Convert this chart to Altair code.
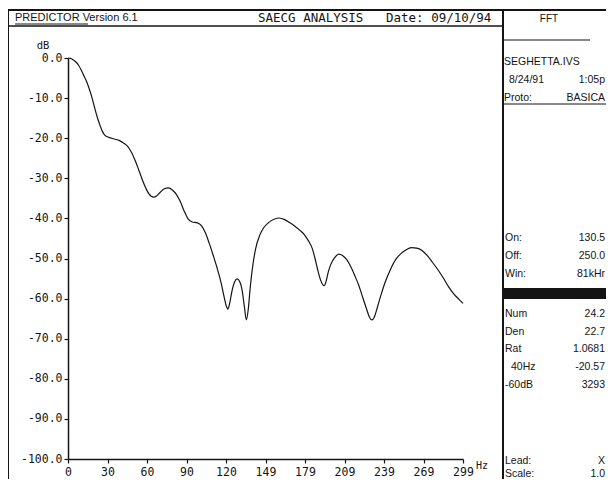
import altair as alt
import pandas as pd

# ---------------- data ----------------
freq_hz = [0, 2, 4, 6, 8, 10, 12, 14, 16, 18, 20, 22, 24, 26, 28, 31, 35, 39, 42, 45,
           48, 51, 54, 57, 60, 63, 65, 67, 70, 73, 76, 79, 82, 85, 88, 91, 94, 98, 101, 104,
           107, 110, 113, 116, 118, 120, 121, 122.5, 124, 126, 128, 130, 132, 133.5, 135,
           136.5, 138, 140, 142, 145, 148, 152, 156, 160, 164, 168, 172, 176, 179, 182,
           185, 187, 189, 191, 193, 194, 195.5, 197, 199, 202, 205, 208, 211, 214, 217,
           220, 223, 226, 228, 230, 232, 234, 237, 240, 244, 248, 252, 256, 260, 264,
           268, 272, 276, 280, 284, 288, 292, 296, 299]
level_db = [0.0, -0.1, -0.5, -1.0, -1.8, -3.0, -4.4, -5.8, -7.6, -9.7, -12.2, -14.6, -16.6,
            -18.3, -19.3, -19.8, -20.2, -20.6, -21.2, -22.0, -23.5, -25.7, -28.3, -31.0,
            -33.2, -34.5, -34.7, -34.4, -33.4, -32.6, -32.4, -32.9, -34.0, -35.8, -38.2,
            -40.2, -40.9, -41.1, -41.8, -43.6, -46.3, -49.3, -52.5, -56.2, -59.3, -62.0,
            -62.6, -61.0, -58.3, -55.9, -55.1, -55.8, -58.3, -62.0, -65.3, -62.5, -57.0,
            -51.5, -47.6, -44.3, -42.4, -41.0, -40.2, -39.9, -40.3, -41.1, -42.0, -43.1,
            -44.1, -45.6, -47.6, -50.0, -52.8, -55.2, -56.6, -56.8, -55.5, -53.4, -51.4,
            -49.7, -48.9, -49.3, -50.3, -52.0, -54.2, -56.6, -59.6, -62.6, -64.5, -65.3,
            -64.5, -62.4, -59.0, -56.0, -52.8, -50.3, -48.8, -47.8, -47.3, -47.4, -48.0,
            -49.3, -51.0, -52.8, -54.8, -57.0, -58.8, -60.2, -61.2]

y_tick_values = [0, -10, -20, -30, -40, -50, -60, -70, -80, -90, -100]
x_tick_values = [0, 29.9, 59.8, 89.7, 119.6, 149.5, 179.4, 209.3, 239.2, 269.1, 299]
x_tick_labels = ["0", "30", "60", "90", "120", "149", "179", "209", "239", "269", "299"]

header_program = "PREDICTOR Version 6.1"
header_analysis = "SAECG ANALYSIS"
header_date = "Date: 09/10/94"
panel_title = "FFT"
file_name = "SEGHETTA.IVS"
rec_date = "8/24/91"
rec_time = "1:05p"
proto_label = "Proto:"
proto_value = "BASICA"
win_labels = ["On:", "Off:", "Win:"]
win_values = ["130.5", "250.0", "81kHr"]
res_labels = ["Num", "Den", "Rat", "40Hz", "-60dB"]
res_values = ["24.2", "22.7", "1.0681", "-20.57", "3293"]
lead_labels = ["Lead:", "Scale:"]
lead_values = ["X", "1.0"]
y_unit = "dB"
x_unit = "Hz"

# ---------------- layout (page pixels) ----------------
INK = "#141414"
MONO = "DejaVu Sans Mono"
SANS = "Liberation Sans"
PX0, PY0 = 68, 58          # plot origin on page
W, H = 395, 401            # plot area
TOTAL_W, TOTAL_H = 598, 471  # whole chart, fits inside the 8px page margins
RIGHT = 605                # right edge for right-aligned panel values

one = pd.DataFrame({"k": [0]})


def px(X):
    return X - PX0


def py(Y):
    return Y - PY0


def txt(s, X, Y, align="left", size=10, font=SANS, weight="normal"):
    return alt.Chart(one).mark_text(
        text=s, align=align, baseline="middle", fontSize=size, font=font,
        fontWeight=weight, color=INK
    ).encode(x=alt.value(px(X)), y=alt.value(py(Y)))


def hline(X1, X2, Y, w=1.5):
    return alt.Chart(one).mark_rule(color=INK, strokeWidth=w).encode(
        x=alt.value(px(X1)), x2=alt.value(px(X2)), y=alt.value(py(Y)))


def vline(X, Y1, Y2, w=1.5):
    return alt.Chart(one).mark_rule(color=INK, strokeWidth=w).encode(
        x=alt.value(px(X)), y=alt.value(py(Y1)), y2=alt.value(py(Y2)))


curve_df = pd.DataFrame({"hz": freq_hz, "db": level_db})

label_js = "[" + ",".join("'%s'" % s for s in x_tick_labels) + "]"

curve = alt.Chart(curve_df).mark_line(
    color=INK, strokeWidth=1.2, interpolate="monotone"
).encode(
    x=alt.X("hz:Q",
            scale=alt.Scale(domain=[0, 299], nice=False, zero=False),
            axis=alt.Axis(values=x_tick_values, title=None, grid=False,
                          labelExpr=label_js + "[round(datum.value / 29.9)]",
                          domainColor=INK, domainWidth=1.5, tickColor=INK,
                          tickWidth=1.2, tickSize=4, labelFont=MONO,
                          labelFontSize=11.5, labelColor=INK, labelPadding=3,
                          labelFlush=False, labelOverlap=False)),
    y=alt.Y("db:Q",
            scale=alt.Scale(domain=[-100, 0], nice=False, zero=False),
            axis=alt.Axis(values=y_tick_values, title=None, grid=False,
                          labelExpr="(datum.value < 0 ? '-' : '') + format(abs(datum.value), '.1f')",
                          domainColor=INK, domainWidth=1.5, tickColor=INK,
                          tickWidth=1.2, tickSize=4, labelFont=MONO,
                          labelFontSize=11.5, labelColor=INK, labelPadding=2,
                          labelFlush=False, labelOverlap=False)),
)

layers = [curve]

# frame
layers += [
    hline(8, 614, 10, 2),
    vline(8, 10, 487, 2),
    hline(8, 503, 26, 1.5),
    vline(503, 10, 487, 2),
    hline(503, 590, 40, 1.2),
    hline(503, 614, 104, 1.0),
]
# header
layers += [
    txt(header_program, 15, 18, size=11),
    hline(15, 88, 24, 1.0),
    txt(header_analysis, 258, 18, size=12.5, font=MONO),
    txt(header_date, 386, 18, size=12.5, font=MONO),
    txt(panel_title, 549, 19, align="center", size=10),
]
# axis units
layers += [
    txt(y_unit, 43, 46, align="center", size=10.5, font=MONO),
    txt(x_unit, 476, 466, size=10, font=MONO),
]
# right panel
layers += [
    txt(file_name, 504, 62, size=10.5),
    txt(rec_date, 509, 80, size=10.5),
    txt(rec_time, RIGHT, 80, align="right", size=10.5),
    txt(proto_label, 504, 98, size=10.5),
    txt(proto_value, RIGHT, 98, align="right", size=10.5),
]
for i, (lab, val) in enumerate(zip(win_labels, win_values)):
    Y = 238 + i * 18
    layers += [txt(lab, 505, Y, size=10.5), txt(val, RIGHT, Y, align="right", size=10.5)]

layers.append(alt.Chart(one).mark_rect(color=INK).encode(
    x=alt.value(px(503)), x2=alt.value(px(614)), y=alt.value(py(288)), y2=alt.value(py(299))))

for i, (lab, val) in enumerate(zip(res_labels, res_values)):
    Y = 314 + i * 17.7
    X = 511 if lab == "40Hz" else 505
    layers += [txt(lab, X, Y, size=10.5), txt(val, RIGHT, Y, align="right", size=10.5)]

for i, (lab, val) in enumerate(zip(lead_labels, lead_values)):
    Y = 461 + i * 12.5
    layers += [txt(lab, 505, Y, size=10.5), txt(val, RIGHT, Y, align="right", size=10.5)]

chart = alt.layer(*layers).properties(
    width=W, height=H,
    autosize=alt.AutoSizeParams(type="none"),
    padding={"left": PX0 - 8, "top": PY0 - 8,
             "right": TOTAL_W - (PX0 - 8) - W, "bottom": TOTAL_H - (PY0 - 8) - H},
    background="white",
).configure_view(stroke=None)

chart.save("out.html", embed_options={"renderer": "svg", "actions": False})
